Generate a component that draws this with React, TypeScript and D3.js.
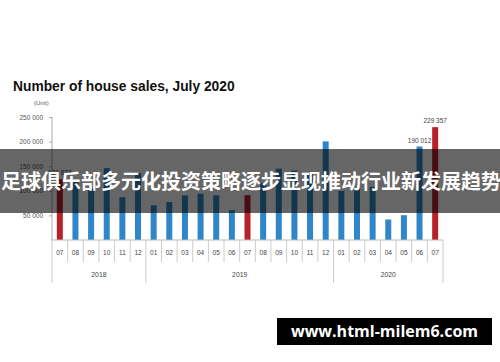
import React, { useEffect, useRef } from 'react';
import * as d3 from 'd3';

const months = [
  '07', '08', '09', '10', '11', '12',
  '01', '02', '03', '04', '05', '06',
  '07', '08', '09', '10', '11', '12',
  '01', '02', '03', '04', '05', '06', '07'
];
const years = ['2018', '2019', '2020'];
const yearSpans = [6, 12, 7];
const sales = [
  123878, 119000, 105000, 146000, 87000, 136000,
  70600, 77000, 90500, 94000, 90700, 60500,
  91093, 116000, 145000, 141000, 136000, 200500,
  99700, 105000, 108000, 41700, 50400, 190012, 229357
];
const highlight = [0, 12, 24];
const labelled = [0, 23, 24];
const yTicks = [50000, 100000, 150000, 200000, 250000];

const fmt = (v: number) => d3.format(',')(v).replace(/,/g, ' ');

const App: React.FC = () => {
  const svgRef = useRef<SVGSVGElement>(null);
  const width = 500;
  const height = 362;

  useEffect(() => {
    const svg = d3.select(svgRef.current);
    svg.selectAll('*').remove();

    const margin = { top: 117, left: 52, right: 57, bottom: 122 };
    const innerWidth = width - margin.left - margin.right;
    const innerHeight = height - margin.top - margin.bottom;
    const font = '"Liberation Sans", Arial, sans-serif';

    svg.append('rect').attr('width', width).attr('height', height).attr('fill', '#fff');

    // Title
    svg.append('text')
      .attr('x', 13)
      .attr('y', 91)
      .style('font-family', font)
      .style('font-weight', 'bold')
      .style('font-size', '13.8px')
      .style('fill', '#111')
      .text('Number of house sales, July 2020');

    svg.append('text')
      .attr('x', 34)
      .attr('y', 105)
      .style('font-family', font)
      .style('font-size', '6px')
      .style('fill', '#555')
      .text('(Unit)');

    const g = svg.append('g')
      .attr('transform', `translate(${margin.left},${margin.top})`);

    const xScale = d3.scaleBand<number>()
      .domain(d3.range(months.length))
      .range([0, innerWidth])
      .padding(0);

    const yScale = d3.scaleLinear()
      .domain([0, 250000])
      .range([innerHeight, 0]);

    // Y axis
    const yAxis = g.append('g')
      .call(d3.axisLeft(yScale).tickValues(yTicks).tickFormat(d => fmt(+d)).tickSize(3).tickPadding(6));
    yAxis.select('.domain').attr('stroke', '#aaa').attr('d', `M0,${innerHeight}V0`);
    yAxis.selectAll('.tick line').attr('stroke', '#aaa');
    yAxis.selectAll('text')
      .style('font-family', font)
      .style('font-size', '6.5px')
      .style('fill', '#555');

    // Bars
    g.selectAll('.bar')
      .data(sales)
      .enter()
      .append('rect')
      .attr('class', 'bar')
      .attr('x', (d, i) => (xScale(i) || 0) + xScale.bandwidth() / 2 - 3)
      .attr('y', d => yScale(d))
      .attr('width', 6)
      .attr('height', d => innerHeight - yScale(d))
      .attr('fill', (d, i) => highlight.includes(i) ? '#b8202a' : '#2f86c9');

    g.selectAll('.bar-label')
      .data(labelled)
      .enter()
      .append('text')
      .attr('x', i => (xScale(i) || 0) + xScale.bandwidth() / 2)
      .attr('y', i => yScale(sales[i]) - 4)
      .attr('text-anchor', 'middle')
      .style('font-family', font)
      .style('font-size', '6.5px')
      .style('fill', '#444')
      .text(i => fmt(sales[i]));

    // X axis, months and years
    const xg = g.append('g').attr('transform', `translate(0,${innerHeight})`);
    xg.append('line')
      .attr('x1', 0).attr('x2', innerWidth)
      .attr('stroke', '#bbb');

    xg.selectAll('.sep')
      .data(d3.range(months.length + 1))
      .enter()
      .append('line')
      .attr('x1', i => i * xScale.step())
      .attr('x2', i => i * xScale.step())
      .attr('y1', 0)
      .attr('y2', 22)
      .attr('stroke', '#ccc');

    xg.selectAll('.month')
      .data(months)
      .enter()
      .append('text')
      .attr('x', (d, i) => (xScale(i) || 0) + xScale.bandwidth() / 2)
      .attr('y', 14.5)
      .attr('text-anchor', 'middle')
      .style('font-family', font)
      .style('font-size', '6.5px')
      .style('fill', '#444')
      .text(d => d);

    const yearStarts = yearSpans.map((s, i) => d3.sum(yearSpans.slice(0, i)));
    const bounds = [...yearStarts, months.length];
    xg.selectAll('.year-sep')
      .data(bounds)
      .enter()
      .append('line')
      .attr('x1', b => b * xScale.step())
      .attr('x2', b => b * xScale.step())
      .attr('y1', 22)
      .attr('y2', 43)
      .attr('stroke', '#ccc');

    xg.selectAll('.year')
      .data(years)
      .enter()
      .append('text')
      .attr('x', (d, i) => (yearStarts[i] + yearSpans[i] / 2) * xScale.step())
      .attr('y', 36.5)
      .attr('text-anchor', 'middle')
      .style('font-family', font)
      .style('font-size', '6.8px')
      .style('fill', '#444')
      .text(d => d);

    // Overlay banner
    svg.append('rect')
      .attr('x', 0).attr('y', 149)
      .attr('width', width).attr('height', 64)
      .attr('fill', 'rgba(0,0,0,0.6)');

    svg.append('text')
      .attr('x', 1)
      .attr('y', 189)
      .style('font-family', '"Noto Sans CJK SC", sans-serif')
      .style('font-weight', 'bold')
      .style('font-size', '20px')
      .style('fill', '#fff')
      .text('足球俱乐部多元化投资策略逐步显现推动行业新发展趋势');

    // Watermark
    svg.append('rect')
      .attr('x', 277).attr('y', 318)
      .attr('width', 215).attr('height', 27)
      .attr('fill', '#000');

    svg.append('text')
      .attr('x', 384.5)
      .attr('y', 337)
      .attr('text-anchor', 'middle')
      .style('font-family', '"Open Sans", "DejaVu Sans", sans-serif')
      .style('font-weight', 'bold')
      .style('font-size', '16px')
      .style('fill', '#fff')
      .text('www.html-milem6.com');
  }, []);

  return (
    <svg
      ref={svgRef}
      width={width}
      height={height}
      style={{ position: 'absolute', left: 0, top: 0, display: 'block' }}
    />
  );
};

export default App;
